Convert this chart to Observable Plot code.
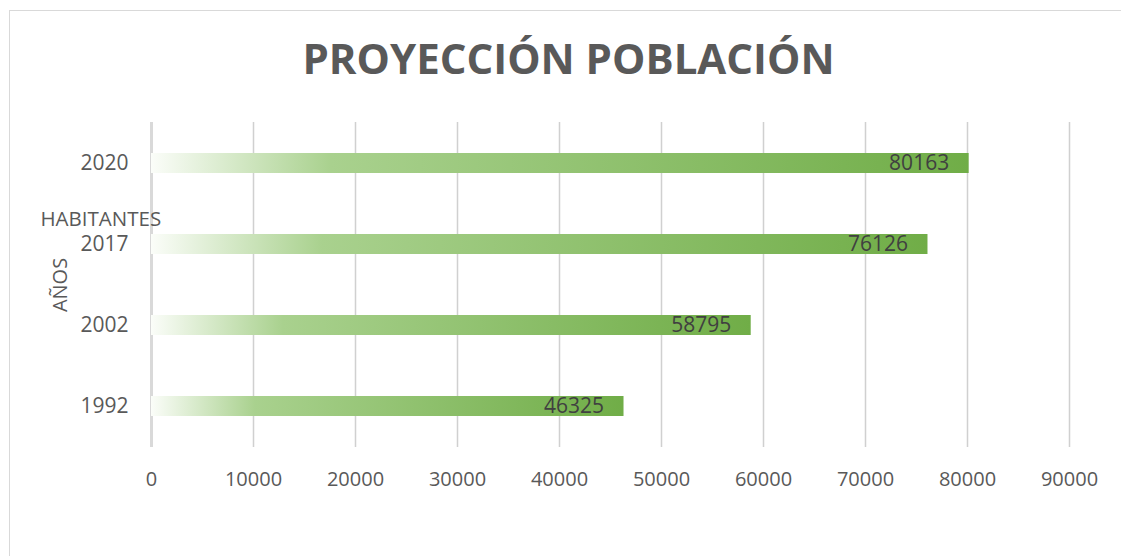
<!DOCTYPE html>
<html>
<head>
<meta charset="utf-8">
<script src="https://cdn.jsdelivr.net/npm/d3@7"></script>
<script src="https://cdn.jsdelivr.net/npm/@observablehq/plot@0.6"></script>
<style>
  html, body { margin: 0; padding: 0; background: #ffffff; overflow: hidden; }
  #wrap { position: relative; width: 1121px; height: 556px; }
  #border { position: absolute; left: 9px; top: 10px; width: 1200px; height: 700px; border: 1px solid #d9d9d9; box-sizing: border-box; }
  #chart { position: absolute; left: 0; top: 0; }
</style>
</head>
<body>
<div id="wrap"><div id="border"></div><div id="chart"></div></div>
<script>
const years = ["1992", "2002", "2017", "2020"];
const habitantes = [46325, 58795, 76126, 80163];
const xTicks = [0, 10000, 20000, 30000, 40000, 50000, 60000, 70000, 80000, 90000];
const titleText = "PROYECCIÓN POBLACIÓN";
const yLabel = "AÑOS";
const xLabel = "HABITANTES";

const data = years.map((y, i) => ({year: y, v: habitantes[i]}));

const chart = Plot.plot({
  width: 1121,
  height: 556,
  marginLeft: 151,
  marginRight: 52,
  marginTop: 122,
  marginBottom: 109,
  style: {fontFamily: "'Open Sans', sans-serif", background: "transparent", overflow: "visible"},
  x: {domain: [0, 90000]},
  y: {domain: years.slice().reverse(), paddingInner: 0.754, paddingOuter: 0.377},
  marks: [
    Plot.ruleX(xTicks.filter(d => d > 0), {stroke: "#d0d0d0", strokeWidth: 1.5}),
    Plot.ruleX([0], {stroke: "#d9d9d9", strokeWidth: 3}),
    Plot.barX(data, {x: "v", y: "year", fill: "url(#barGrad)"}),
    Plot.text(data, {x: "v", y: "year", text: d => String(d.v), textAnchor: "end", dx: -20, fill: "#404040", fontSize: 21}),
    Plot.axisX({ticks: xTicks, tickSize: 0, tickPadding: 24, fontSize: 20, color: "#595959", tickFormat: d => String(d), label: null}),
    Plot.axisY({tickSize: 0, tickPadding: 23, fontSize: 21, color: "#595959", label: null}),
    Plot.text([titleText], {frameAnchor: "top", lineAnchor: "middle", dx: -42, dy: -62, fontSize: 42, fontWeight: "bold", fill: "#595959"}),
    Plot.text([yLabel], {frameAnchor: "left", textAnchor: "middle", lineAnchor: "middle", dx: -91, rotate: -90, fontSize: 20, fill: "#595959"}),
    Plot.text([xLabel], {frameAnchor: "top-left", textAnchor: "start", lineAnchor: "middle", dx: -111, dy: 97, fontSize: 20.5, fill: "#595959"})
  ]
});

const svg = d3.select(chart);
const grad = svg.insert("defs", ":first-child").append("linearGradient")
  .attr("id", "barGrad").attr("x1", 0).attr("x2", 1).attr("y1", 0).attr("y2", 0);
grad.append("stop").attr("offset", 0).attr("stop-color", "#fbfdf9");
grad.append("stop").attr("offset", 0.22).attr("stop-color", "#a9d18e");
grad.append("stop").attr("offset", 1).attr("stop-color", "#70ad47");

document.getElementById("chart").appendChild(chart);
</script>
</body>
</html>
